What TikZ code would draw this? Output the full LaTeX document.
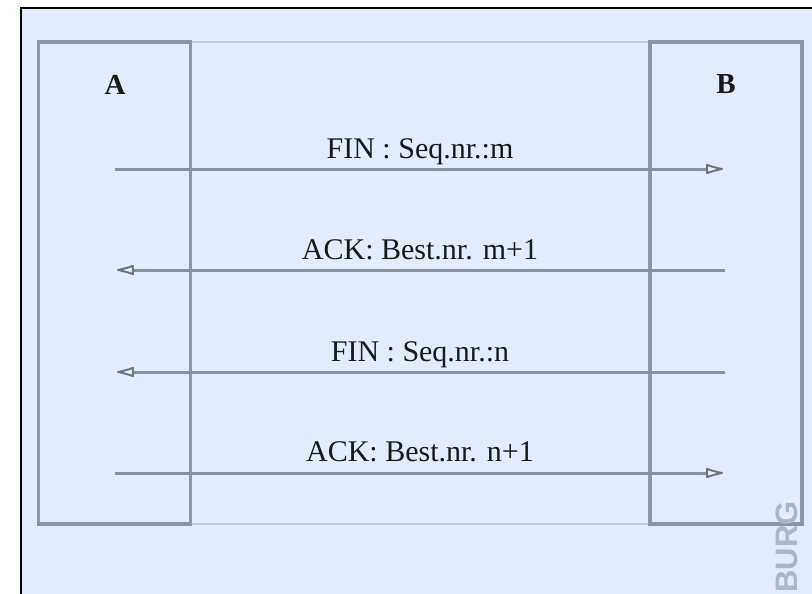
\documentclass[tikz,border=0pt]{standalone}
\usepackage{fontspec}
\setmainfont{Liberation Serif}
\newfontfamily\burgfont{Liberation Sans}
\usetikzlibrary{arrows.meta}
\definecolor{bgblue}{HTML}{E3ECFC}
\definecolor{boxgray}{HTML}{8E95A3}
\definecolor{midgray}{HTML}{C5CDDA}
\definecolor{linegray}{HTML}{8A909D}
\definecolor{headgray}{HTML}{6F747E}
\definecolor{headfill}{HTML}{F4F4F4}
\definecolor{burggray}{HTML}{A9B6CC}
\definecolor{txt}{HTML}{1A1A1A}
\tikzset{
  hostbox/.style={draw=boxgray, line width=3.8pt, minimum width=152pt, minimum height=482pt, inner sep=0pt},
  msg/.style={draw=linegray, line width=3pt, -{Latex[length=22pt,width=11pt,fill=headfill,color=headgray,line width=2pt,round]}},
  msglabel/.style={anchor=base, text=txt, font=\fontsize{30}{36}\selectfont, inner sep=0pt},
  hostlabel/.style={anchor=base, text=txt, font=\fontsize{29}{34}\selectfont\bfseries, inner sep=0pt}
}
\begin{document}
\begin{tikzpicture}[x=1pt,y=-1pt]
\useasboundingbox (0,0) rectangle (812,594);
\clip (0,0) rectangle (812,594);
\fill[white] (0,0) rectangle (812,594);
\draw[black, line width=2pt, fill=bgblue] (21,8) rectangle (830,620);
% middle band
\draw[midgray, line width=1.8pt] (191,42) -- (650,42);
\draw[midgray, line width=1.8pt] (191,524) -- (650,524);
% host boxes
\node[hostbox] (boxA) at (114.5,283) {};
\node[hostbox] (boxB) at (726,283) {};
\node[hostlabel] (labA) at (115,95) {A};
\node[hostlabel] (labB) at (726,94) {B};
% arrow endpoints
\coordinate (a1) at (115,169); \coordinate (b1) at (723,169);
\coordinate (b2) at (725,270); \coordinate (a2) at (117,270);
\coordinate (b3) at (725,372); \coordinate (a3) at (117,372);
\coordinate (a4) at (115,473); \coordinate (b4) at (723,473);
\draw[msg] (a1) -- (b1);
\draw[msg] (b2) -- (a2);
\draw[msg] (b3) -- (a3);
\draw[msg] (a4) -- (b4);
\node[msglabel] (m1) at (420,158) {FIN : Seq.nr.:m};
\node[msglabel] (m2) at (420,259) {ACK: Best.nr. m+1};
\node[msglabel] (m3) at (420,361) {FIN : Seq.nr.:n};
\node[msglabel] (m4) at (420,461) {ACK: Best.nr. n+1};
\node[rotate=90, text=burggray, font=\burgfont\bfseries\fontsize{31}{31}\selectfont, inner sep=0pt] (burg) at (787,547) {BURG};
\end{tikzpicture}
\end{document}
